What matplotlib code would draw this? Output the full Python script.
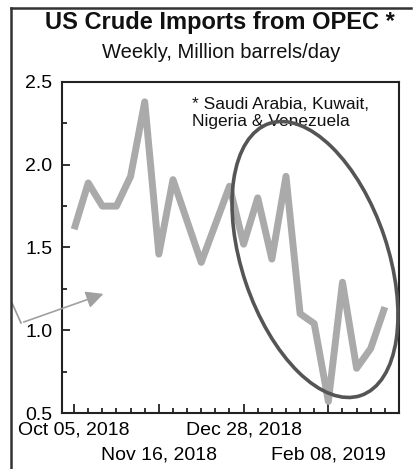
import matplotlib
matplotlib.use("Agg")
import matplotlib.pyplot as plt
from matplotlib.patches import Ellipse, FancyArrowPatch
from matplotlib.lines import Line2D
import pandas as pd

plt.rcParams['font.family'] = ['Liberation Sans', 'DejaVu Sans']

# weekly US crude imports from OPEC, million barrels/day
weeks = pd.date_range("2018-10-05", periods=23, freq="7D")
imports = [1.61, 1.89, 1.75, 1.75, 1.93, 2.38, 1.46, 1.91, 1.66, 1.41, 1.64, 1.87,
           1.52, 1.80, 1.43, 1.93, 1.10, 1.04, 0.57, 1.29, 0.77, 0.89, 1.14]
major_dates = pd.to_datetime(["2018-10-05", "2018-11-16", "2018-12-28", "2019-02-08"])
major_labels = ["Oct 05, 2018", "Nov 16, 2018", "Dec 28, 2018", "Feb 08, 2019"]

fig = plt.figure(figsize=(4.15, 4.69), dpi=100)
ax = fig.add_axes([0.1494, 0.1194, 0.812, 0.7058])

ax.plot(weeks, imports, color="#aaaaaa", lw=5, solid_joinstyle="round",
        solid_capstyle="butt", zorder=2)

ax.set_ylim(0.5, 2.5)
ax.set_yticks([0.5, 1.0, 1.5, 2.0, 2.5])
ax.set_yticks([0.75, 1.25, 1.75, 2.25], minor=True)
ax.set_xlim(pd.Timestamp("2018-09-29"), pd.Timestamp("2019-03-15"))
ax.set_xticks(major_dates)
ax.set_xticklabels(major_labels)
ax.set_xticks(weeks, minor=True)

ax.tick_params(which="both", direction="in", color="#222222", width=1.3, labelsize=14)
ax.tick_params(which="major", length=6)
ax.tick_params(which="minor", length=3.5)
ax.tick_params(axis="x", which="major", length=6.5, pad=6)
ax.tick_params(axis="y", pad=7)
ax.yaxis.set_major_formatter(matplotlib.ticker.FormatStrFormatter("%.1f"))
# stagger the date labels on two rows
for t in ax.xaxis.get_major_ticks()[1::2]:
    t.set_pad(24)
for sp in ax.spines.values():
    sp.set_linewidth(1.5)
    sp.set_color("#222222")

ax.text(0.385, 0.955, "* Saudi Arabia, Kuwait,\nNigeria & Venezuela",
        transform=ax.transAxes, fontsize=12.5, va="top", ha="left", linespacing=1.2,
        color="#111111", zorder=1)

# circle around the recent drop
ell = Ellipse((3.15, 2.095), 2.87, 1.46, angle=-71.4, fill=False,
              edgecolor="#555555", lw=2.6, transform=fig.dpi_scale_trans, zorder=3)
fig.add_artist(ell)

# arrow stub on the left
fig.add_artist(Line2D([12 / 415, 21 / 415], [1 - 303 / 469, 1 - 323 / 469],
                      transform=fig.transFigure, color="#999999", lw=1.2))
fig.add_artist(FancyArrowPatch(
    (21 / 415, 1 - 323 / 469), (106 / 415, 1 - 293 / 469),
    transform=fig.transFigure, arrowstyle="-|>", mutation_scale=26,
    color="#a0a0a0", lw=1.2))

# outer frame
fig.add_artist(Line2D([11 / 415, 11 / 415], [0, 1 - 8 / 469],
                      transform=fig.transFigure, color="#333333", lw=1.8))
fig.add_artist(Line2D([11 / 415, 411 / 415], [1 - 8 / 469, 1 - 8 / 469],
                      transform=fig.transFigure, color="#333333", lw=1.8))

fig.text(0.53, 1 - 23 / 469, "US Crude Imports from OPEC *", ha="center", va="center",
         fontsize=17, fontweight="bold", color="#111111")
fig.text(0.533, 1 - 52 / 469, "Weekly, Million barrels/day", ha="center", va="center",
         fontsize=14.5, color="#111111")

fig.savefig("out.png", dpi=100)
